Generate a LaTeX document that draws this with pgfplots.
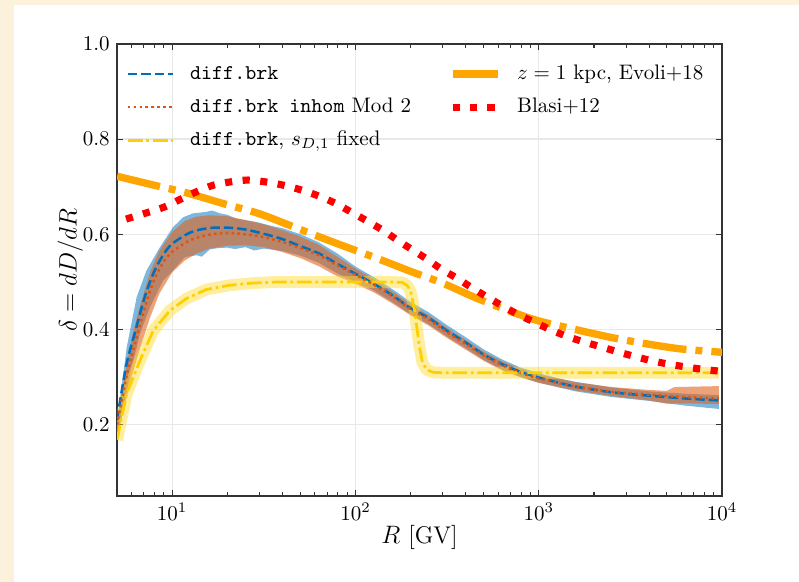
\documentclass[border=0pt]{standalone}
\usepackage{pgfplots}
\pgfplotsset{compat=1.18}
\definecolor{cream}{RGB}{252,242,219}
\definecolor{bandblue}{RGB}{40,135,200}
\definecolor{lineblue}{RGB}{0,110,185}
\definecolor{bandorange}{RGB}{225,100,30}
\definecolor{lineorange}{RGB}{220,85,20}
\definecolor{lineyellow}{RGB}{255,208,0}
\definecolor{bandyellow}{RGB}{255,218,40}
\definecolor{evoli}{RGB}{255,165,0}
\definecolor{blasi}{RGB}{255,0,0}
\definecolor{gridgray}{RGB}{232,232,232}
\begin{document}
\begin{tikzpicture}
\fill[cream] (0,0) rectangle (380.3pt,277pt);
\fill[white] (6.66pt,0) rectangle (380.3pt,274.6pt);
\begin{axis}[
  at={(55.7pt,40.9pt)}, anchor=south west,
  scale only axis, width=288pt, height=215.2pt,
  xmode=log, xmin=5, xmax=10000, ymin=0.05, ymax=1.0,
  ytick={0.2,0.4,0.6,0.8,1.0},
  yticklabel style={/pgf/number format/.cd, fixed, fixed zerofill, precision=1},
  grid=major, major grid style={gridgray, line width=0.6pt},
  axis line style={black!80, line width=0.6pt},
  tick style={black!80, line width=0.5pt},
  major tick length=3pt, minor tick length=1.8pt,
  xlabel={$R$ [GV]}, ylabel={$\delta = dD/dR$},
  label style={font=\fontsize{11.5}{13}\selectfont},
  xlabel style={yshift=4.5pt},
  ylabel style={yshift=-7pt},
  legend columns=2,
  legend cell align=left,
  legend image code/.code={\draw[#1] (0pt,0pt) -- (21.4pt,0pt);},
  legend style={at={(0,1)}, anchor=north west, draw=none, fill=none,
    xshift=4.3pt, yshift=-9.4pt, inner sep=0pt, row sep=6.4pt,
    nodes={inner xsep=0pt, inner ysep=0pt, text height=7.2pt, text depth=2.2pt},
    /tikz/every even column/.append style={column sep=18pt},
    /tikz/every odd column/.append style={column sep=7.6pt}},
]
% blue band (diff.brk)
\addplot[draw=none, fill=bandblue, fill opacity=0.6, forget plot] coordinates {
(5,0.21)(5.09,0.229)(5.65,0.363)(6.4,0.468)(7.24,0.524)(8.58,0.573)(10.1,0.615)(11.5,0.636)(13,0.644)(15.3,0.647)(16.5,0.650)(18.2,0.644)(20,0.641)(22.3,0.633)(28.7,0.626)(35.4,0.617)(39.81,0.613)(50.12,0.600)(63.1,0.583)(79.43,0.560)(100,0.532)(125.9,0.510)(158.5,0.485)(199.5,0.458)(251,0.436)(316,0.409)(398,0.384)(501,0.358)(631,0.337)(794,0.320)(1000,0.308)(1259,0.298)(1585,0.290)(2512,0.278)(3981,0.270)(6310,0.265)(9600,0.262)
(9600,0.233)(6310,0.240)(5000,0.245)(3981,0.250)(2512,0.258)(1585,0.270)(1259,0.279)(1000,0.288)(794,0.300)(631,0.316)(501,0.336)(398,0.361)(316,0.385)(251,0.411)(199.5,0.432)(158.5,0.458)(125.9,0.482)(100,0.500)(79.43,0.518)(63.1,0.540)(50.12,0.555)(39.81,0.565)(31.62,0.570)(28,0.566)(25.12,0.573)(22,0.569)(19.95,0.572)(17.8,0.571)(16,0.568)(14.5,0.553)(13.6,0.556)(11.7,0.552)(10.1,0.524)(8.93,0.503)(7.57,0.447)(6.67,0.391)(5.89,0.307)(5.2,0.201)(5,0.185)
} -- cycle;
% orange band (inhom Mod 2)
\addplot[draw=none, fill=bandorange, fill opacity=0.6, forget plot] coordinates {
(5,0.20)(5.5,0.30)(6.0,0.38)(6.67,0.45)(7.57,0.52)(8.5,0.565)(10,0.605)(11.7,0.628)(13.6,0.637)(16,0.640)(20,0.638)(25,0.630)(31.6,0.621)(39.8,0.609)(50,0.595)(63,0.578)(79.4,0.553)(100,0.528)(125.9,0.505)(158.5,0.480)(199.5,0.453)(251,0.430)(316,0.403)(398,0.378)(501,0.353)(631,0.333)(794,0.317)(1000,0.305)(1585,0.289)(2512,0.279)(3981,0.273)(5000,0.271)(5500,0.279)(9600,0.281)
(9600,0.243)(6310,0.245)(5000,0.244)(3981,0.251)(2512,0.260)(1585,0.272)(1000,0.288)(794,0.300)(631,0.314)(501,0.334)(398,0.358)(316,0.382)(251,0.408)(199.5,0.430)(158.5,0.455)(125.9,0.478)(100,0.496)(79.4,0.512)(63,0.533)(50,0.550)(39.8,0.563)(31.6,0.573)(25,0.577)(20,0.576)(16,0.570)(13.6,0.560)(11.7,0.545)(10,0.520)(8.5,0.475)(7.57,0.425)(6.67,0.36)(6.0,0.30)(5.5,0.24)(5,0.175)
} -- cycle;
% yellow band
\addplot[bandyellow, opacity=0.45, line width=5.6pt, line join=round, forget plot] coordinates {
(5,0.168)(5.65,0.265)(6.67,0.335)(7.89,0.398)(9.72,0.440)(11.97,0.465)(15.35,0.484)(20.6,0.493)(27.5,0.4975)(35.4,0.4995)(60,0.500)(100,0.500)(150,0.500)(180,0.499)(192,0.492)(200,0.480)(210,0.44)(222,0.37)(232,0.33)(245,0.315)(265,0.310)(300,0.309)(1000,0.309)(9600,0.309)
};
% blue dashed
\addplot[lineblue, line width=1.2pt, dash pattern=on 4.5pt off 1.9pt, smooth, forget plot] coordinates {
(5,0.21)(5.62,0.325)(6.31,0.398)(7.08,0.468)(7.94,0.520)(8.91,0.556)(10,0.580)(12.59,0.604)(15.85,0.613)(19.95,0.614)(25.12,0.610)(31.62,0.601)(39.81,0.590)(50.12,0.575)(63.1,0.560)(79.43,0.538)(100,0.517)(125.9,0.496)(158.5,0.472)(199.5,0.445)(251.2,0.424)(316.2,0.397)(398.1,0.373)(501.2,0.347)(631,0.327)(794.3,0.311)(1000,0.299)(1259,0.289)(1585,0.280)(2512,0.268)(3981,0.261)(6310,0.255)(9600,0.251)
};
% orange dotted
\addplot[lineorange, line width=1.2pt, dash pattern=on 1.2pt off 1.6pt, smooth, forget plot] coordinates {
(5,0.20)(5.62,0.30)(6.31,0.375)(7.08,0.445)(7.94,0.503)(8.91,0.540)(10,0.563)(12.59,0.588)(15.85,0.599)(19.95,0.603)(25.12,0.600)(31.62,0.594)(39.81,0.584)(50.12,0.571)(63.1,0.556)(79.43,0.535)(100,0.515)(125.9,0.494)(158.5,0.470)(199.5,0.443)(251,0.421)(316,0.394)(398,0.370)(501,0.345)(631,0.325)(794,0.309)(1000,0.297)(1259,0.288)(1585,0.280)(2512,0.269)(3981,0.263)(6310,0.258)(9600,0.255)
};
% yellow dash-dot
\addplot[lineyellow, line width=1.3pt, dash pattern=on 7pt off 1.8pt on 1.3pt off 1.8pt, forget plot] coordinates {
(5,0.168)(5.65,0.265)(6.67,0.335)(7.89,0.398)(9.72,0.440)(11.97,0.465)(15.35,0.484)(20.6,0.493)(27.5,0.4975)(35.4,0.4995)(60,0.500)(100,0.500)(150,0.500)(180,0.499)(192,0.492)(200,0.480)(210,0.44)(222,0.37)(232,0.33)(245,0.315)(265,0.310)(300,0.309)(1000,0.309)(9600,0.309)
};
% Evoli+18
\addplot[evoli, line width=3.5pt, dash pattern=on 21pt off 4.3pt on 3.3pt off 4.3pt, smooth, forget plot] coordinates {
(5,0.722)(8,0.703)(12,0.687)(20,0.662)(30,0.643)(50,0.610)(80,0.580)(130,0.550)(200,0.522)(300,0.497)(450,0.467)(700,0.438)(1000,0.418)(1500,0.402)(2500,0.383)(4000,0.369)(6000,0.359)(10000,0.352)
};
% Blasi+12
\addplot[blasi, line width=3.4pt, dash pattern=on 3.4pt off 5pt, smooth, forget plot] coordinates {
(5.6,0.632)(7.23,0.645)(9.02,0.657)(11.0,0.673)(13.5,0.689)(16.7,0.703)(20.7,0.710)(25.9,0.714)(32.4,0.710)(40.6,0.703)(50.7,0.693)(62.4,0.681)(76.9,0.666)(93.5,0.648)(114.3,0.629)(139,0.610)(167.5,0.589)(203,0.568)(245,0.548)(296,0.526)(357,0.508)(434,0.487)(524,0.468)(637,0.449)(776,0.431)(951,0.415)(1167,0.399)(1439,0.385)(1758,0.374)(2208,0.363)(2754,0.352)(3436,0.342)(4266,0.333)(5330,0.326)(6668,0.320)(8318,0.315)(10000,0.312)
};
\addlegendimage{lineblue, line width=1.2pt, dash pattern=on 4.5pt off 1.9pt}
\addlegendentry{\texttt{diff.brk}}
\addlegendimage{evoli, line width=3.5pt}
\addlegendentry{$z = 1$ kpc, Evoli+18}
\addlegendimage{lineorange, line width=1.2pt, dash pattern=on 1.2pt off 1.6pt}
\addlegendentry{\texttt{diff.brk inhom} Mod 2}
\addlegendimage{blasi, line width=3.4pt, dash pattern=on 3.6pt off 4.6pt}
\addlegendentry{Blasi+12}
\addlegendimage{lineyellow, line width=1.3pt, dash pattern=on 7pt off 1.8pt on 1.3pt off 1.8pt}
\addlegendentry{\texttt{diff.brk}, $s_{D,1}$ fixed}
\end{axis}
\pgfresetboundingbox
\path (0,0) rectangle (380.3pt,277pt);
\end{tikzpicture}
\end{document}
